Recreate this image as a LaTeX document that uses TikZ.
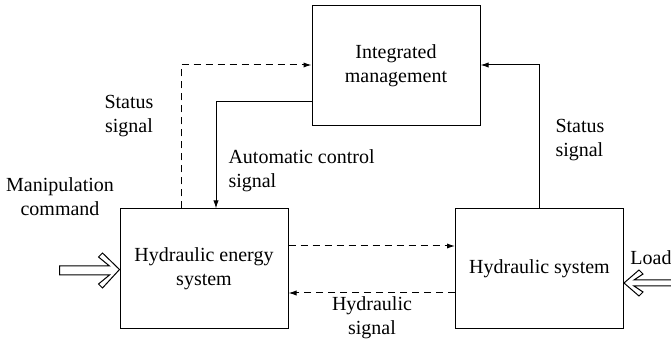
\documentclass[tikz,border=0pt]{standalone}
\usepackage{fontspec}
\setmainfont{Liberation Serif}
\usepackage{tikz}
\usetikzlibrary{arrows.meta}

\begin{document}
\begin{tikzpicture}[x=0.5pt,y=-0.5pt,line width=0.5pt]
\tikzstyle{every node}+=[font=\fontsize{10}{12}\selectfont]
\tikzstyle{block}=[draw,black,minimum width=84pt,minimum height=60pt,align=center,inner sep=0pt]
\tikzstyle{sig}=[-{Latex[length=4pt,width=2.6pt]}]
\tikzstyle{dsh}=[dash pattern=on 3.5pt off 2.5pt]
\tikzstyle{lbl}=[inner sep=0pt,align=center]
\tikzstyle{fat}=[draw,black,line width=0.5pt,fill=white]
\useasboundingbox (0,0) rectangle (671,342);
\node [block] (mgmt) at (396,65.5) {Integrated\\management};
\node [block] (ene) at (204,269) {Hydraulic energy\\system};
\node [block] (hyd) at (539.5,269) {Hydraulic system};
\coordinate (sl) at (181,65);
\coordinate (ac) at (216,102);
\coordinate (sr) at (539.5,65);
\coordinate (h1) at (0,246);
\coordinate (h2) at (0,293);
\draw [sig,dsh] (ene.north -| sl) |- (mgmt.west |- sl);
\draw [sig] (mgmt.west |- ac) -| (ene.north -| ac);
\draw [sig] (hyd.north) |- (mgmt.east |- sr);
\draw [sig,dsh] (ene.east |- h1) -- (hyd.west |- h1);
\draw [sig,dsh] (hyd.west |- h2) -- (ene.east |- h2);
\coordinate (mtip) at (ene.west |- 0,269.5);
\coordinate (ltip) at (hyd.east |- 0,283);
\draw [fat] (mtip) -- ++(-17,-16.5) -- ++(-4,4) -- ++(11,9) -- ++(-50,0) -- ++(0,9)
  -- ++(50,0) -- ++(-11,9) -- ++(4,4) -- cycle;
\draw [fat] (ltip) -- ++(15,-13) -- ++(4,4) -- ++(-9,6) -- ++(43,0) -- ++(0,6)
  -- ++(-43,0) -- ++(9,6) -- ++(-4,4) -- cycle;
\node [lbl] (man) at (60,197) {Manipulation\\command};
\node [lbl] (stl) at (129,116) {Status\\signal};
\node [lbl,align=left,anchor=west] (acs) at (228,171) {Automatic control\\signal};
\node [lbl,align=left,anchor=west] (str) at (555,140) {Status\\signal};
\node [lbl] (hsg) at (372,318) {Hydraulic\\signal};
\node [lbl] (load) at (651,258) {Load};
\end{tikzpicture}
\end{document}
